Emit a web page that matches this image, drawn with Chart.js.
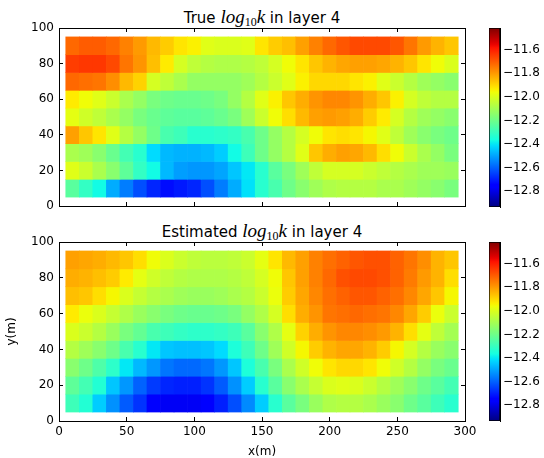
<!DOCTYPE html>
<html>
<head>
<meta charset="utf-8">
<script src="https://cdn.jsdelivr.net/npm/chart.js@4.4.0/dist/chart.umd.min.js"></script>
<style>
  body { margin:0; background:#fff; width:544px; height:458px; overflow:hidden; position:relative; }
  canvas { position:absolute; }
  .ttl { position:absolute; left:59px; width:406px; text-align:center; white-space:nowrap;
         font:15px "DejaVu Sans"; line-height:15px; color:#000; }
  .m { font-family:"Liberation Serif"; font-style:italic; font-size:19px; }
  .m sub { font-style:normal; font-size:12px; vertical-align:-3px; line-height:0; }
</style>
</head>
<body>
<div class="ttl" style="top:9px">True <span class="m">log<sub>10</sub>k</span> in layer 4</div>
<div class="ttl" style="top:223px">Estimated <span class="m">log<sub>10</sub>k</span> in layer 4</div>

<canvas id="mapTrue" style="left:0;top:0"   width="480" height="215"></canvas>
<canvas id="cbTrue"  style="left:480px;top:0" width="64" height="215"></canvas>
<canvas id="mapEst"  style="left:0;top:230px" width="480" height="229"></canvas>
<canvas id="cbEst"   style="left:480px;top:230px" width="64" height="229"></canvas>

<script>
// cell centres (m)
const xCenters = [10,20,30,40,50,60,70,80,90,100,110,120,130,140,150,160,170,180,190,200,210,220,230,240,250,260,270,280,290];
const yRows    = [90,80,70,60,50,40,30,20,10];

// colour scale
const cbMin = -12.936, cbMax = -11.415;
const cbTicks = [-12.8,-12.6,-12.4,-12.2,-12.0,-11.8,-11.6];
const xTicksStep = 50, yTicksStep = 20;

// log10 k, one row per y (top row first)
const trueLogK = [
  [-11.72,-11.70,-11.70,-11.72,-11.76,-11.80,-11.85,-11.88,-11.92,-11.94,-11.99,-12.00,-12.00,-11.99,-11.92,-11.88,-11.86,-11.81,-11.76,-11.72,-11.69,-11.67,-11.67,-11.67,-11.69,-11.74,-11.80,-11.84,-11.87],
  [-11.65,-11.64,-11.64,-11.67,-11.74,-11.79,-11.86,-11.93,-12.01,-12.05,-12.07,-12.08,-12.08,-12.07,-12.05,-12.01,-11.96,-11.92,-11.87,-11.84,-11.82,-11.81,-11.81,-11.82,-11.84,-11.87,-11.92,-11.96,-12.00],
  [-11.72,-11.73,-11.74,-11.78,-11.85,-11.89,-12.01,-12.05,-12.09,-12.13,-12.13,-12.13,-12.13,-12.11,-12.07,-12.03,-11.99,-11.94,-11.90,-11.90,-11.90,-11.92,-11.94,-11.99,-12.03,-12.07,-12.11,-12.13,-12.15],
  [-11.93,-11.96,-11.99,-12.03,-12.09,-12.13,-12.18,-12.20,-12.21,-12.21,-12.20,-12.18,-12.13,-12.07,-11.99,-11.94,-11.87,-11.83,-11.79,-11.77,-11.77,-11.79,-11.83,-11.87,-11.94,-12.01,-12.05,-12.07,-12.07],
  [-11.98,-12.02,-12.05,-12.09,-12.13,-12.18,-12.21,-12.23,-12.24,-12.24,-12.23,-12.21,-12.18,-12.11,-12.03,-11.96,-11.91,-11.85,-11.81,-11.80,-11.81,-11.83,-11.88,-11.93,-12.01,-12.07,-12.11,-12.13,-12.15],
  [-11.81,-11.87,-11.92,-11.99,-12.07,-12.13,-12.20,-12.27,-12.29,-12.33,-12.33,-12.32,-12.31,-12.27,-12.20,-12.13,-12.07,-12.01,-11.96,-11.92,-11.91,-11.92,-11.95,-11.99,-12.05,-12.11,-12.15,-12.18,-12.20],
  [-12.09,-12.11,-12.15,-12.21,-12.28,-12.33,-12.42,-12.47,-12.48,-12.48,-12.47,-12.44,-12.37,-12.29,-12.20,-12.13,-12.07,-11.99,-11.87,-11.83,-11.81,-11.82,-11.85,-11.91,-11.96,-12.03,-12.09,-12.13,-12.18],
  [-11.99,-12.03,-12.09,-12.15,-12.23,-12.31,-12.37,-12.47,-12.51,-12.52,-12.52,-12.50,-12.45,-12.40,-12.33,-12.24,-12.18,-12.11,-12.05,-12.01,-12.01,-12.01,-12.03,-12.05,-12.07,-12.09,-12.11,-12.11,-12.12],
  [-12.24,-12.31,-12.37,-12.49,-12.56,-12.63,-12.69,-12.73,-12.71,-12.69,-12.63,-12.56,-12.49,-12.41,-12.33,-12.27,-12.20,-12.15,-12.11,-12.08,-12.07,-12.07,-12.07,-12.09,-12.09,-12.11,-12.13,-12.15,-12.18]
];

const estLogK = [
  [-11.81,-11.82,-11.83,-11.85,-11.87,-11.91,-11.96,-12.00,-12.03,-12.05,-12.06,-12.06,-12.05,-12.03,-11.98,-11.92,-11.85,-11.81,-11.76,-11.73,-11.71,-11.69,-11.68,-11.68,-11.71,-11.74,-11.78,-11.84,-11.87],
  [-11.83,-11.84,-11.86,-11.88,-11.93,-11.98,-12.02,-12.05,-12.07,-12.08,-12.08,-12.08,-12.07,-12.05,-12.01,-11.96,-11.87,-11.81,-11.76,-11.72,-11.68,-11.67,-11.67,-11.68,-11.71,-11.75,-11.80,-11.84,-11.91],
  [-11.86,-11.87,-11.91,-11.95,-12.00,-12.04,-12.07,-12.09,-12.11,-12.12,-12.12,-12.11,-12.09,-12.07,-12.03,-11.97,-11.88,-11.82,-11.77,-11.73,-11.71,-11.69,-11.69,-11.71,-11.73,-11.77,-11.82,-11.87,-11.95],
  [-11.93,-11.97,-12.00,-12.04,-12.08,-12.12,-12.15,-12.18,-12.20,-12.21,-12.21,-12.20,-12.18,-12.13,-12.08,-12.01,-11.91,-11.83,-11.79,-11.74,-11.73,-11.72,-11.73,-11.74,-11.77,-11.82,-11.88,-11.97,-12.03],
  [-12.00,-12.03,-12.07,-12.12,-12.18,-12.22,-12.27,-12.29,-12.31,-12.32,-12.32,-12.31,-12.29,-12.24,-12.15,-12.08,-11.98,-11.89,-11.83,-11.79,-11.77,-11.77,-11.78,-11.80,-11.84,-11.91,-11.98,-12.05,-12.10],
  [-12.07,-12.11,-12.15,-12.20,-12.27,-12.33,-12.40,-12.45,-12.46,-12.46,-12.45,-12.42,-12.35,-12.29,-12.20,-12.11,-12.02,-11.95,-11.88,-11.84,-11.82,-11.82,-11.84,-11.88,-11.95,-12.01,-12.07,-12.12,-12.15],
  [-12.15,-12.20,-12.26,-12.32,-12.40,-12.47,-12.52,-12.57,-12.59,-12.59,-12.57,-12.52,-12.45,-12.35,-12.27,-12.18,-12.09,-12.02,-11.96,-11.92,-11.90,-11.90,-11.92,-11.96,-12.02,-12.07,-12.13,-12.18,-12.21],
  [-12.23,-12.28,-12.34,-12.45,-12.52,-12.60,-12.66,-12.69,-12.70,-12.70,-12.67,-12.61,-12.53,-12.44,-12.33,-12.24,-12.15,-12.09,-12.04,-12.00,-11.99,-12.00,-12.03,-12.07,-12.11,-12.15,-12.20,-12.24,-12.28],
  [-12.29,-12.34,-12.44,-12.53,-12.61,-12.67,-12.75,-12.78,-12.78,-12.78,-12.76,-12.70,-12.63,-12.54,-12.44,-12.33,-12.24,-12.18,-12.12,-12.08,-12.07,-12.07,-12.09,-12.12,-12.15,-12.20,-12.24,-12.29,-12.33]
];

const FONT = { family: 'DejaVu Sans', size: 12 };

/* ========== jet colormap ========== */
function jet(t) {
  t = Math.max(0, Math.min(1, t));
  const lerp = pts => {
    for (let i = 1; i < pts.length; i++) {
      if (t <= pts[i][0]) {
        const [x0,y0] = pts[i-1], [x1,y1] = pts[i];
        return y0 + (y1-y0)*(t-x0)/(x1-x0);
      }
    }
    return pts[pts.length-1][1];
  };
  const r = lerp([[0,0],[0.35,0],[0.66,1],[0.89,1],[1,0.5]]);
  const g = lerp([[0,0],[0.125,0],[0.375,1],[0.64,1],[0.91,0],[1,0]]);
  const b = lerp([[0,0.5],[0.11,1],[0.34,1],[0.65,0],[1,0]]);
  return `rgb(${Math.round(r*255)},${Math.round(g*255)},${Math.round(b*255)})`;
}
const norm = v => (v - cbMin) / (cbMax - cbMin);

// inward ticks, black frame
function frameAxis(pos, min, max, step, extra) {
  return Object.assign({
    type: 'linear', position: pos, min, max,
    ticks: { stepSize: step, display: false, color: '#000', font: FONT, padding: 8, autoSkip: false, maxRotation: 0 },
    grid: { drawOnChartArea: false, tickLength: -4, color: '#000', offset: false },
    border: { display: true, color: '#000', width: 1 },
    offset: false
  }, extra || {});
}

/* ========== HEATMAP ========== */
function heatChart(id, grid, opts) {
  const datasets = yRows.map((yc, r) => ({
    data: xCenters.map(xc => ({ x: xc, y: [yc - 5, yc + 5] })),
    backgroundColor: grid[r].map(v => jet(norm(v))),
    borderWidth: 0, grouped: false,
    barPercentage: 1, categoryPercentage: 1,
    xAxisID: 'x', yAxisID: 'y'
  }));

  const x = frameAxis('bottom', 0, 300, xTicksStep, {
    afterFit: s => { s.height = opts.xh; s.paddingLeft = 0; s.paddingRight = 0; }
  });
  x.ticks.display = opts.showX;
  if (opts.xTitle) x.title = { display: true, text: opts.xTitle, color: '#000', font: FONT, padding: { top: 0, bottom: 0 } };

  const y = frameAxis('left', 0, 100, yTicksStep, {
    afterFit: s => { s.width = 59; s.paddingTop = 0; s.paddingBottom = 0; }
  });
  y.ticks.display = true;
  y.ticks.padding = 9;
  if (opts.yTitle) y.title = { display: true, text: opts.yTitle, color: '#000', font: FONT, padding: { top: 5, bottom: 0 } };

  new Chart(document.getElementById(id), {
    type: 'bar',
    data: { datasets },
    options: {
      responsive: false, animation: false,
      layout: { padding: { top: opts.padTop, right: 15, bottom: 0, left: 0 } },
      plugins: { legend: { display: false }, tooltip: { enabled: false }, title: { display: false } },
      scales: {
        x, y,
        x2: frameAxis('top', 0, 300, xTicksStep, { afterFit: s => { s.height = 0; } }),
        y2: frameAxis('right', 0, 100, yTicksStep, { afterFit: s => { s.width = 0; } })
      }
    }
  });
}

/* ========== COLORBAR ========== */
function colorBar(id, padTop, padBottom) {
  new Chart(document.getElementById(id), {
    type: 'bar',
    data: {
      labels: [''],
      datasets: [{
        data: [[cbMin, cbMax]],
        backgroundColor: ctx => {
          const ch = ctx.chart, ys = ch.scales.y;
          if (!ys || !ch.chartArea) return '#888';
          const g = ch.ctx.createLinearGradient(0, ys.getPixelForValue(cbMin), 0, ys.getPixelForValue(cbMax));
          for (let i = 0; i <= 64; i++) g.addColorStop(i/64, jet(i/64));
          return g;
        },
        borderColor: '#000', borderWidth: 1, borderSkipped: false,
        barPercentage: 1, categoryPercentage: 1
      }]
    },
    options: {
      responsive: false, animation: false,
      layout: { padding: { top: padTop, right: 0, bottom: padBottom, left: 9 } },
      plugins: { legend: { display: false }, tooltip: { enabled: false } },
      scales: {
        x: { display: false },
        y: {
          type: 'linear', position: 'right', min: cbMin, max: cbMax, z: 1,
          afterBuildTicks: s => { s.ticks = cbTicks.map(v => ({ value: v })); },
          afterFit: s => { s.width = 44; s.paddingTop = 0; s.paddingBottom = 0; },
          ticks: { color: '#000', font: FONT, padding: 7,
                   callback: v => Number(v).toFixed(1).replace('-', '\u2212') },
          grid: { drawOnChartArea: false, tickLength: -4, color: '#000' },
          border: { display: true, color: '#000' }
        }
      }
    }
  });
}

heatChart('mapTrue', trueLogK, { padTop: 28, xh: 9, showX: false });
colorBar('cbTrue', 28, 8);
heatChart('mapEst', estLogK, { padTop: 12, xh: 38, showX: true, xTitle: 'x(m)', yTitle: 'y(m)' });
colorBar('cbEst', 12, 38);
</script>
</body>
</html>
